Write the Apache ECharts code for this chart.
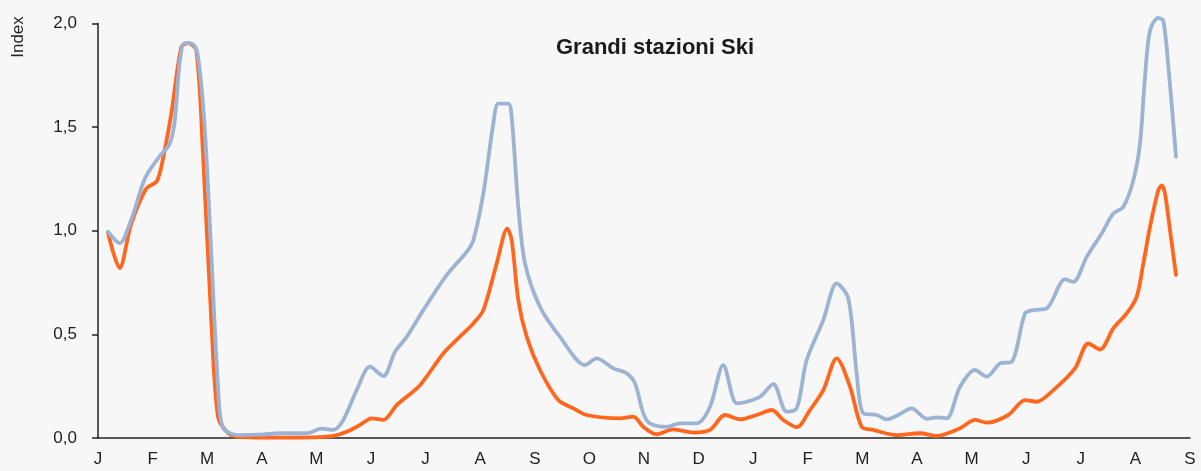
<!DOCTYPE html>
<html>
<head>
<meta charset="utf-8">
<script src="https://cdn.jsdelivr.net/npm/echarts@6/dist/echarts.min.js"></script>
<style>
html,body{margin:0;padding:0;background:#f7f7f7;}
#chart{width:1201px;height:471px;}
</style>
</head>
<body>
<div id="chart"></div>
<script>
// Month tick labels (20 months, Jan to Sep of following year)
const monthLabels = ['J','F','M','A','M','J','J','A','S','O','N','D','J','F','M','A','M','J','J','A','S'];
const yTicks = [0, 0.5, 1.0, 1.5, 2.0];
const titleText = 'Grandi stazioni Ski';
const yName = 'Index';

// Blue series: position in months since start, index value
const bluePos = [0.183,0.397,0.604,0.824,0.916,1.13,1.313,1.405,1.496,1.588,1.74,1.832,1.954,2.075,2.198,2.289,2.564,2.967,3.333,3.822,4.097,4.31,4.493,4.738,4.982,5.225,5.44,5.654,5.958,6.386,6.753,6.874,7.057,7.24,7.332,7.515,7.577,7.698,7.821,8.095,8.462,8.919,9.134,9.438,9.683,9.835,9.987,10.11,10.416,10.659,10.965,11.209,11.452,11.698,11.881,12.125,12.368,12.613,12.797,12.98,13.284,13.529,13.742,13.895,14.016,14.262,14.445,14.657,14.903,15.178,15.361,15.544,15.788,16.062,16.277,16.52,16.735,16.978,17.13,17.376,17.711,17.863,18.108,18.383,18.595,18.778,18.962,19.084,19.176,19.267,19.419,19.511,19.621,19.744];
const blueVals = [0.995,0.94,1.05,1.23,1.28,1.36,1.42,1.53,1.81,1.905,1.90,1.84,1.50,0.89,0.25,0.05,0.014,0.016,0.023,0.023,0.045,0.039,0.087,0.231,0.344,0.299,0.416,0.488,0.617,0.786,0.898,0.954,1.179,1.517,1.613,1.613,1.548,1.115,0.842,0.633,0.488,0.352,0.384,0.336,0.312,0.264,0.119,0.071,0.054,0.071,0.071,0.151,0.352,0.167,0.175,0.199,0.26,0.127,0.143,0.376,0.569,0.746,0.673,0.312,0.119,0.111,0.09,0.111,0.143,0.093,0.1,0.095,0.247,0.328,0.296,0.36,0.368,0.601,0.617,0.625,0.765,0.753,0.874,0.987,1.083,1.115,1.243,1.42,1.741,1.966,2.027,2.014,1.741,1.356];

// Orange series
const orangePos = [0.183,0.397,0.604,0.885,1.068,1.159,1.342,1.526,1.648,1.80,1.923,2.075,2.198,2.381,2.564,3.333,3.943,4.31,4.555,4.799,5.013,5.225,5.471,5.897,6.324,6.69,6.874,7.057,7.302,7.496,7.577,7.698,7.852,8.095,8.43,8.705,8.95,9.56,9.804,9.987,10.233,10.537,10.903,11.209,11.484,11.758,12.064,12.339,12.551,12.797,13.04,13.284,13.529,13.773,13.987,14.2,14.628,15.055,15.361,15.788,16.062,16.277,16.672,16.978,17.192,17.497,17.894,18.137,18.352,18.595,18.84,19.023,19.145,19.267,19.419,19.481,19.542,19.634,19.744];
const orangeVals = [0.99,0.82,1.03,1.204,1.236,1.308,1.564,1.886,1.905,1.87,1.37,0.568,0.103,0.024,0.006,0.002,0.003,0.01,0.03,0.063,0.095,0.087,0.159,0.255,0.408,0.505,0.553,0.617,0.842,1.01,0.954,0.665,0.488,0.328,0.183,0.143,0.111,0.095,0.103,0.054,0.018,0.042,0.026,0.039,0.111,0.09,0.111,0.135,0.087,0.052,0.135,0.231,0.384,0.247,0.054,0.039,0.014,0.023,0.01,0.047,0.087,0.074,0.111,0.183,0.175,0.231,0.336,0.456,0.427,0.529,0.601,0.681,0.842,1.018,1.195,1.219,1.179,1.002,0.786];

const pair = (xs, ys) => xs.map((x, i) => [x, ys[i]]);
const FONT = "'Liberation Sans',Arial,sans-serif";

const chart = echarts.init(document.getElementById('chart'), null, {renderer: 'canvas'});
chart.setOption({
  backgroundColor: '#f7f7f7',
  animation: false,
  title: {
    text: titleText,
    left: 650, top: 32, textAlign: 'center',
    textStyle: {fontFamily: FONT, fontWeight: 'bold', fontSize: 22, color: '#1a1a1a'}
  },
  graphic: [{
    type: 'text', x: 18, y: 37, rotation: Math.PI / 2,
    style: {text: yName, fontFamily: FONT, fontSize: 17, fill: '#222', align: 'center', verticalAlign: 'middle'}
  }],
  grid: {left: 98, right: 11, top: 23.5, bottom: 33, containLabel: false},
  xAxis: {
    type: 'value', min: 0, max: monthLabels.length - 1, interval: 1,
    axisLine: {show: true, lineStyle: {color: '#222', width: 1.5}},
    axisTick: {show: false},
    splitLine: {show: false},
    axisLabel: {
      margin: 13, fontFamily: FONT, fontSize: 17, color: '#222',
      formatter: v => monthLabels[Math.round(v)] || ''
    }
  },
  yAxis: {
    type: 'value', min: yTicks[0], max: yTicks[yTicks.length - 1], interval: 0.5,
    axisLine: {show: true, lineStyle: {color: '#222', width: 1.5}},
    axisTick: {show: true, length: 6, lineStyle: {color: '#222', width: 1.5}},
    splitLine: {show: false},
    axisLabel: {
      margin: 21, fontFamily: FONT, fontSize: 17, color: '#222',
      formatter: v => v.toFixed(1).replace('.', ',')
    }
  },
  series: [
    {
      type: 'line', name: 'blue', data: pair(bluePos, blueVals), smooth: 0.3,
      showSymbol: false, clip: false, z: 3,
      lineStyle: {color: '#9db3d4', width: 3.8, cap: 'round', join: 'round'}
    },
    {
      type: 'line', name: 'orange', data: pair(orangePos, orangeVals), smooth: 0.3,
      showSymbol: false, clip: false, z: 2,
      lineStyle: {color: '#ff671f', width: 3.8, cap: 'round', join: 'round'}
    }
  ]
});
</script>
</body>
</html>
